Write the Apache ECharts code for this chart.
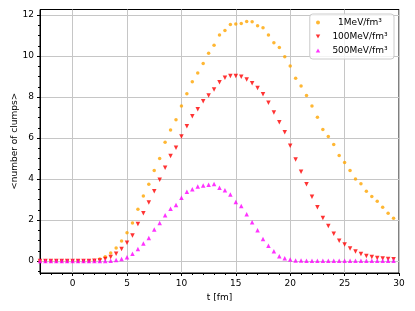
<!DOCTYPE html>
<html><head><meta charset="utf-8">
<script src="https://cdn.jsdelivr.net/npm/echarts@6/dist/echarts.min.js"></script>
<style>html,body{margin:0;padding:0;background:#fff}#c{width:415px;height:311px}</style>
</head><body><div id="c"></div>
<script>
const t = [-3,-2.5,-2,-1.5,-1,-0.5,0,0.5,1,1.5,2,2.5,3,3.5,4,4.5,5,5.5,6,6.5,7,7.5,8,8.5,9,9.5,10,10.5,11,11.5,12,12.5,13,13.5,14,14.5,15,15.5,16,16.5,17,17.5,18,18.5,19,19.5,20,20.5,21,21.5,22,22.5,23,23.5,24,24.5,25,25.5,26,26.5,27,27.5,28,28.5,29,29.5];
const dens1 = [0,0,0,0,0,0,0,0,0,0.01,0.03,0.1,0.21,0.39,0.63,0.98,1.38,1.85,2.52,3.17,3.74,4.42,5.0,5.79,6.39,6.89,7.56,8.16,8.75,9.17,9.63,10.13,10.52,11.02,11.25,11.54,11.56,11.59,11.69,11.67,11.48,11.38,11.02,10.65,10.42,9.97,9.51,8.91,8.54,8.08,7.56,7.01,6.42,6.08,5.69,5.15,4.81,4.41,4.0,3.77,3.40,3.15,2.91,2.62,2.33,2.08];
const dens100 = [0,0,0,0,0,0,0,0,0,0,0.01,0.03,0.1,0.2,0.36,0.59,0.89,1.25,1.80,2.33,2.85,3.40,3.97,4.55,5.12,5.53,6.08,6.57,7.06,7.40,7.79,8.07,8.37,8.72,8.94,9.02,9.02,8.99,8.85,8.67,8.44,8.13,7.72,7.25,6.77,6.28,5.62,4.95,4.36,3.74,3.14,2.62,2.10,1.71,1.33,0.99,0.80,0.61,0.46,0.34,0.25,0.20,0.15,0.12,0.10,0.09];
const dens500 = [0,0,0,0,0,0,0,0,0,0,0,0,0,0.01,0.05,0.1,0.18,0.36,0.59,0.85,1.12,1.54,1.85,2.23,2.55,2.73,3.09,3.38,3.50,3.64,3.68,3.72,3.76,3.58,3.45,3.25,2.88,2.68,2.28,1.89,1.50,1.07,0.75,0.47,0.23,0.13,0.07,0.03,0.02,0.01,0.01,0.01,0.01,0.01,0.01,0.01,0.01,0.01,0.01,0.01,0.01,0.01,0.01,0.01,0.01,0.01];
const seriesNames = ['1MeV/fm³', '100MeV/fm³', '500MeV/fm³'];
const xTickLabels = [0, 5, 10, 15, 20, 25, 30];
const xMinorTicks = [-3,-2,-1,1,2,3,4,6,7,8,9,11,12,13,14,16,17,18,19,21,22,23,24,26,27,28,29];
const yTickLabels = [0, 2, 4, 6, 8, 10, 12];
const yMinorTicks = [-0.5,0.5,1,1.5,2.5,3,3.5,4.5,5,5.5,6.5,7,7.5,8.5,9,9.5,10.5,11,11.5];

const FF = 'DejaVu Sans';
const xMin = -3, xMax = 30, yMin = -0.585, yMax = 12.27;
const pts = arr => t.map((x, i) => [x, arr[i]]);

const chart = echarts.init(document.getElementById('c'), null, {renderer: 'canvas'});
chart.setOption({
  animation: false,
  backgroundColor: '#fff',
  grid: {left: 40, right: 16, top: 9.5, bottom: 38, outerBoundsMode: 'none', containLabel: false, show: true, borderColor: '#000', borderWidth: 1, backgroundColor: 'transparent'},
  xAxis: [{
    type: 'value', min: xMin, max: xMax,
    name: 't [fm]', nameLocation: 'middle', nameGap: 20, nameMoveOverlap: false,
    nameTextStyle: {fontFamily: FF, fontSize: 9, color: '#000'},
    axisLine: {show: true, onZero: false, lineStyle: {color: '#000', width: 1}},
    axisTick: {show: true, length: 3, customValues: xTickLabels, lineStyle: {color: '#000', width: 1}},
    axisLabel: {show: true, margin: 6, customValues: xTickLabels, fontFamily: FF, fontSize: 9, color: '#000'},
    splitLine: {show: true, lineStyle: {color: '#c6c6c6', width: 1}}
  }, {
    type: 'value', min: xMin, max: xMax, position: 'bottom',
    axisLine: {show: false, onZero: false}, axisLabel: {show: false}, splitLine: {show: false},
    axisTick: {show: true, length: 2, customValues: xMinorTicks, lineStyle: {color: '#000', width: 1}}
  }],
  yAxis: [{
    type: 'value', min: yMin, max: yMax,
    name: '<number of clumps>', nameLocation: 'middle', nameGap: 21, nameMoveOverlap: false,
    nameTextStyle: {fontFamily: FF, fontSize: 9, color: '#000'},
    axisLine: {show: true, onZero: false, lineStyle: {color: '#000', width: 1}},
    axisTick: {show: true, length: 3, customValues: yTickLabels, lineStyle: {color: '#000', width: 1}},
    axisLabel: {show: true, margin: 6, customValues: yTickLabels, fontFamily: FF, fontSize: 9, color: '#000'},
    splitLine: {show: true, lineStyle: {color: '#c6c6c6', width: 1}}
  }, {
    type: 'value', min: yMin, max: yMax, position: 'left',
    axisLine: {show: false, onZero: false}, axisLabel: {show: false}, splitLine: {show: false},
    axisTick: {show: true, length: 2, customValues: yMinorTicks, lineStyle: {color: '#000', width: 1}}
  }],
  legend: {
    orient: 'vertical', right: 21, top: 14,
    padding: [4, 4, 4, 6],
    itemWidth: 14, itemHeight: 4, itemGap: 5,
    backgroundColor: 'rgba(255,255,255,0.8)', borderColor: '#cccccc', borderWidth: 1, borderRadius: 3,
    data: [
      {name: seriesNames[0], icon: 'circle'},
      {name: seriesNames[1], icon: 'path://M0,0L10,0L5,9Z'},
      {name: seriesNames[2], icon: 'path://M5,0L10,9L0,9Z'}
    ],
    formatter: n => '{a|' + n + '}',
    textStyle: {rich: {a: {width: 60, align: 'center', fontSize: 9, lineHeight: 11, fontFamily: FF, color: '#000'}}}
  },
  series: [
    {name: seriesNames[0], type: 'scatter', xAxisIndex: 0, yAxisIndex: 0, data: pts(dens1), symbol: 'circle', symbolSize: 3.5, itemStyle: {color: '#FFA500'}},
    {name: seriesNames[1], type: 'scatter', xAxisIndex: 0, yAxisIndex: 0, data: pts(dens100), symbol: 'triangle', symbolRotate: 180, symbolSize: 4.5, itemStyle: {color: '#FF0000'}},
    {name: seriesNames[2], type: 'scatter', xAxisIndex: 0, yAxisIndex: 0, data: pts(dens500), symbol: 'triangle', symbolSize: 4.5, itemStyle: {color: '#FF00FF'}}
  ]
});
</script></body></html>
